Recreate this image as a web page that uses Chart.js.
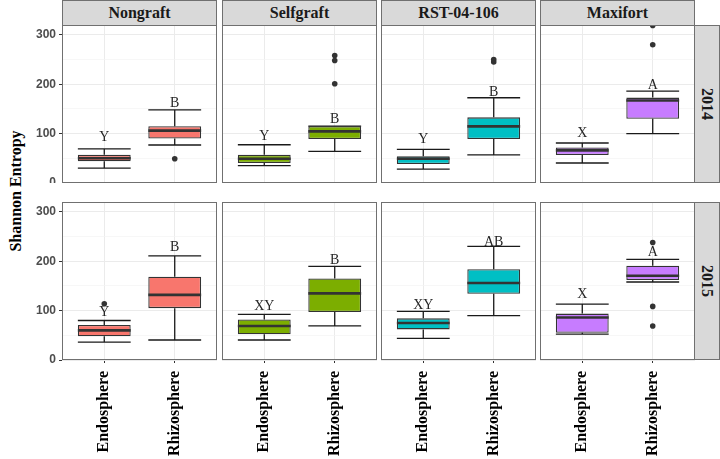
<!DOCTYPE html>
<html>
<head>
<meta charset="utf-8">
<script src="https://cdn.jsdelivr.net/npm/chart.js@4.4.1/dist/chart.umd.min.js"></script>
<style>
  body { margin:0; background:#fff; }
  #wrap { position:relative; width:720px; height:459px; overflow:hidden; }
  .cv { position:absolute; }
  .strip { position:absolute; background:#d9d9d9; border:1px solid #707070; box-sizing:border-box;
           font:bold 16px "Liberation Serif", serif; color:#1a1a1a; display:flex; align-items:center; justify-content:center; }
  .vstrip { writing-mode:vertical-rl; }
  #ytitle { position:absolute; left:-57px; top:182px; width:145px; text-align:center; transform:rotate(-90deg);
            font:bold 16px "Liberation Serif", serif; color:#000; }
</style>
</head>
<body>
<div id="wrap">
  <div id="ytitle">Shannon Entropy</div>
</div>
<script>
const groups = ['Nongraft', 'Selfgraft', 'RST-04-106', 'Maxifort'];
const years = ['2014', '2015'];
const compartments = ['Endosphere', 'Rhizosphere'];
const fills = ['#F8766D', '#7CAE00', '#00BFC4', '#C77CFF'];
const yTicks = [0, 50, 100, 150, 200, 250, 300];

// [year][group][compartment]
const lowWhisker = [
  [[30, 77], [35, 64], [28, 57], [40.5, 100]],
  [[36.4, 40.5], [40.5, 69], [44, 89.7], [52.6, 158]]
];
const q1 = [
  [[44, 90], [40.5, 89], [38.5, 89], [56.7, 130]],
  [[48, 105], [52, 97], [62, 134], [55, 162]]
];
const median = [
  [[50, 106], [49, 104.5], [49, 114.6], [66, 167]],
  [[60, 132], [69, 135], [75, 155.8], [86, 170.6]]
];
const q3 = [
  [[57, 115], [57, 115], [54, 133], [72, 173]],
  [[71, 168.5], [82, 165], [84.4, 184], [94, 191]]
];
const highWhisker = [
  [[69, 148], [77.5, 115], [68, 172.7], [81, 186]],
  [[80, 211], [92.4, 189.5], [98.5, 230], [113, 204]]
];
const outliers = [
  [[[], [49]], [[], [201, 248, 258]], [[], [245, 250]], [[], [280, 319]]],
  [[[114], []], [[], []], [[], []], [[], [69, 108.6, 238]]]
];
const letters = [
  [['Y', 'B'], ['Y', 'B'], ['Y', 'B'], ['X', 'A']],
  [['Y', 'B'], ['XY', 'B'], ['XY', 'AB'], ['X', 'A']]
];
const letterY = [
  [[92, 162], [94, 128], [89, 184], [101, 197.5]],
  [[96, 229], [109, 202], [111, 239], [133, 218]]
];

const colX0 = [62, 222, 381, 540];
const colX1 = [217, 377, 536, 695];
const rowY0 = [25, 202];
const rowH = 158;
const wrap = document.getElementById('wrap');

function noPad(s) {
  s.paddingLeft = 0; s.paddingRight = 0; s.paddingTop = 0; s.paddingBottom = 0;
}

const boxParts = {
  id: 'boxParts',
  afterDatasetsDraw(chart, args, o) {
    const ctx = chart.ctx, ys = chart.scales.y, a = chart.chartArea;
    const bars = chart.getDatasetMeta(0).data;
    ctx.save();
    ctx.beginPath();
    ctx.rect(a.left, a.top, a.right - a.left, a.bottom - a.top);
    ctx.clip();
    bars.forEach((b, i) => {
      const half = b.width / 2;
      const top = ys.getPixelForValue(o.hi[i]), bot = ys.getPixelForValue(o.lo[i]);
      const qt = ys.getPixelForValue(o.q3[i]), qb = ys.getPixelForValue(o.q1[i]);
      ctx.strokeStyle = '#1a1a1a';
      ctx.lineWidth = 1.3;
      ctx.beginPath();
      ctx.moveTo(b.x, top); ctx.lineTo(b.x, qt);
      ctx.moveTo(b.x, qb); ctx.lineTo(b.x, bot);
      ctx.moveTo(b.x - half, top); ctx.lineTo(b.x + half, top);
      ctx.moveTo(b.x - half, bot); ctx.lineTo(b.x + half, bot);
      ctx.stroke();
      const m = ys.getPixelForValue(o.med[i]);
      ctx.strokeStyle = '#333333';
      ctx.lineWidth = 2.6;
      ctx.beginPath();
      ctx.moveTo(b.x - half, m); ctx.lineTo(b.x + half, m);
      ctx.stroke();
      ctx.fillStyle = '#262626';
      ctx.font = '14px "Liberation Serif", serif';
      ctx.textAlign = 'center';
      ctx.textBaseline = 'middle';
      ctx.fillText(o.letters[i], b.x, ys.getPixelForValue(o.letterY[i]));
    });
    ctx.restore();
    ctx.save();
    ctx.strokeStyle = '#707070';
    ctx.lineWidth = 1;
    ctx.strokeRect(a.left + 0.5, a.top + 0.5, a.right - a.left - 1, a.bottom - a.top - 1);
    ctx.restore();
  }
};

function makePanel(r, c) {
  const left = c === 0 ? 0 : colX0[c];
  const width = colX1[c] - left;
  const height = r === 1 ? 459 - rowY0[r] : rowH;
  const div = document.createElement('div');
  div.className = 'cv';
  div.style.left = left + 'px';
  div.style.top = rowY0[r] + 'px';
  div.style.width = width + 'px';
  div.style.height = height + 'px';
  const cv = document.createElement('canvas');
  div.appendChild(cv);
  wrap.appendChild(div);

  const pts = [];
  outliers[r][c].forEach((list, k) => list.forEach(v => pts.push({x: k + 1, y: v})));

  new Chart(cv, {
    type: 'bar',
    data: {
      datasets: [{
        data: compartments.map((n, k) => ({x: k + 1, y: [q1[r][c][k], q3[r][c][k]]})),
        backgroundColor: fills[c],
        borderColor: '#333333',
        borderWidth: 1.3,
        borderSkipped: false,
        categoryPercentage: 1,
        barPercentage: 0.75
      }, {
        type: 'scatter',
        data: pts,
        pointRadius: 2.8,
        pointBackgroundColor: '#333333',
        pointBorderWidth: 0
      }]
    },
    options: {
      responsive: true,
      maintainAspectRatio: false,
      animation: false,
      layout: { padding: 0, autoPadding: false },
      plugins: {
        legend: { display: false },
        tooltip: { enabled: false },
        boxParts: {
          lo: lowWhisker[r][c], q1: q1[r][c], med: median[r][c], q3: q3[r][c], hi: highWhisker[r][c],
          letters: letters[r][c], letterY: letterY[r][c]
        }
      },
      scales: {
        x: {
          type: 'linear', min: 0.4, max: 2.6, offset: false,
          afterBuildTicks: s => { s.ticks = [{value: 1}, {value: 2}]; },
          afterFit: s => { s.height = r === 1 ? 99 : 0; noPad(s); },
          border: { display: false },
          grid: { offset: false, color: '#EBEBEB', lineWidth: 1, drawTicks: r === 1, tickLength: 3, tickColor: '#333333' },
          ticks: {
            display: r === 1, autoSkip: false, minRotation: 90, maxRotation: 90, padding: 8,
            color: '#000', font: { family: '"Liberation Serif", serif', weight: 'bold', size: 16 },
            callback: v => compartments[v - 1]
          }
        },
        y: {
          min: 0, max: 320,
          afterBuildTicks: s => { s.ticks = yTicks.map(v => ({value: v})); },
          afterFit: s => { s.width = c === 0 ? 62 : 0; noPad(s); },
          border: { display: false },
          grid: {
            color: ctx => ctx.tick && ctx.tick.value % 100 === 0 ? '#EBEBEB' : '#F3F3F3',
            lineWidth: ctx => ctx.tick && ctx.tick.value % 100 === 0 ? 1 : 0.7,
            drawTicks: c === 0, tickLength: 3,
            tickColor: ctx => ctx.tick && ctx.tick.value % 100 === 0 ? '#333333' : 'rgba(0,0,0,0)'
          },
          ticks: {
            display: c === 0, padding: 3, color: '#4d4d4d',
            font: { family: '"Liberation Sans", Arial, sans-serif', weight: 'bold', size: 12 },
            callback: v => v % 100 === 0 ? v : ''
          }
        }
      }
    },
    plugins: [boxParts]
  });
}

groups.forEach((g, c) => {
  const s = document.createElement('div');
  s.className = 'strip';
  s.style.left = colX0[c] + 'px';
  s.style.top = '0px';
  s.style.width = (colX1[c] - colX0[c]) + 'px';
  s.style.height = '26px';
  s.textContent = g;
  wrap.appendChild(s);
});
years.forEach((y, r) => {
  const s = document.createElement('div');
  s.className = 'strip vstrip';
  s.style.left = '694px';
  s.style.top = rowY0[r] + 'px';
  s.style.width = '26px';
  s.style.height = rowH + 'px';
  s.textContent = y;
  wrap.appendChild(s);
});
years.forEach((y, r) => groups.forEach((g, c) => makePanel(r, c)));
</script>
</body>
</html>
